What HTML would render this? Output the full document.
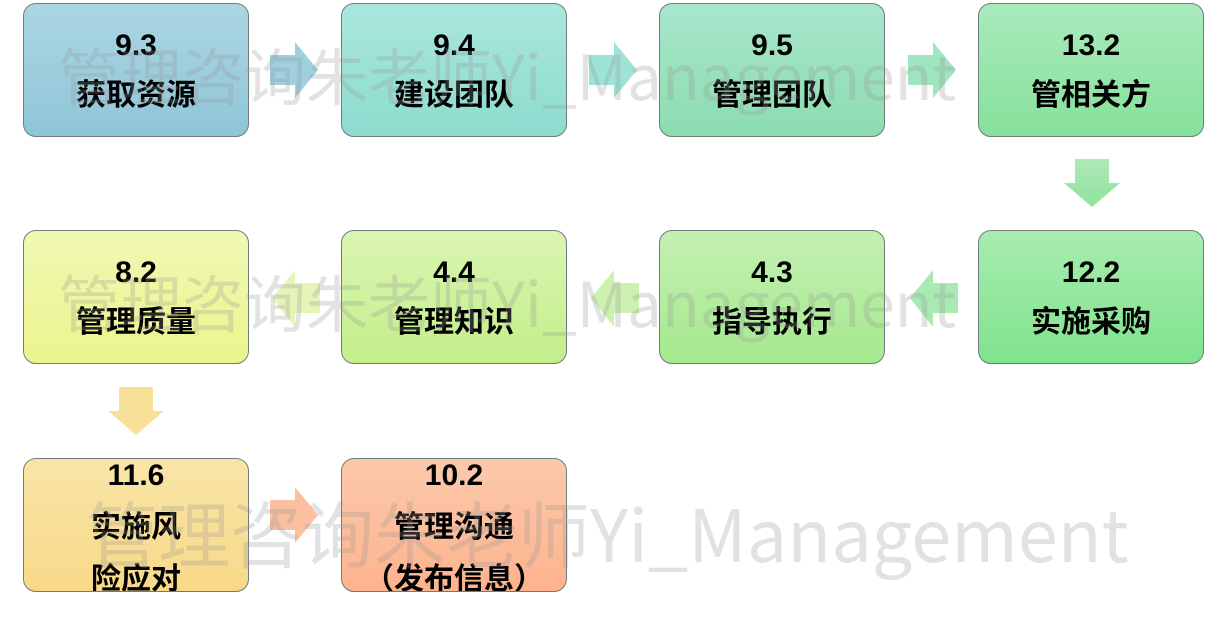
<!DOCTYPE html>
<html><head><meta charset="utf-8"><style>
body{margin:0;width:1228px;height:628px;background:#fff;position:relative;overflow:hidden;font-family:"Liberation Sans","Noto Sans CJK SC",sans-serif}
.b{position:absolute;width:226px;height:134px;border:1px solid #6e7c7c;border-radius:13px;box-sizing:border-box;text-align:center;font-weight:bold;font-size:30px;color:#000;line-height:50px;padding-top:17px;overflow:hidden}
.t3{padding-top:0;line-height:52px}
.t3 div{margin-top:-9px}
.wm{position:absolute;white-space:nowrap;color:rgba(150,150,150,0.28);font-family:"Noto Sans CJK SC","Liberation Sans",sans-serif;font-weight:400}
svg{position:absolute;left:0;top:0}
</style></head><body>
<svg width="1228" height="628">
<defs>
<linearGradient id="g" x1="0" y1="0" x2="0" y2="1"><stop offset="0" stop-color="#aee9b8"/><stop offset="1" stop-color="#8fe29b"/></linearGradient>
</defs>
<polygon points="270,55 295,55 295,42 318,70 295,98 295,85 270,85" fill="#9fd0df"/>
<polygon points="589,55 614,55 614,42 637,70 614,98 614,85 589,85" fill="#9de3d8"/>
<polygon points="908,55 933,55 933,42 956,70 933,98 933,85 908,85" fill="#9ee5c0"/>
<polygon points="1075,159 1109,159 1109,183 1120,183 1092,207 1064,183 1075,183" fill="url(#g)"/>
<polygon points="958,283 933,283 933,270 910,298 933,327 933,313 958,313" fill="#a9eab3"/>
<polygon points="639,283 614,283 614,270 591,298 614,327 614,313 639,313" fill="#cdf2b0"/>
<polygon points="320,283 295,283 295,270 272,298 295,327 295,313 320,313" fill="#e5f5b8"/>
<polygon points="119,387 153,387 153,411 164,411 136,435 108,411 119,411" fill="#f8e098"/>
<polygon points="270,500 295,500 295,487 318,515 295,543 295,530 270,530" fill="#fcbf9f"/>
</svg>
<div class="b" style="left:23px;top:3px;background:linear-gradient(#abd6e2,#8fc5d8)">9.3<br>获取资源</div>
<div class="b" style="left:341px;top:3px;background:linear-gradient(#abe6dd,#8cdcce)">9.4<br>建设团队</div>
<div class="b" style="left:659px;top:3px;background:linear-gradient(#a8e6cc,#8cdcb0)">9.5<br>管理团队</div>
<div class="b" style="left:978px;top:3px;background:linear-gradient(#a9eabd,#86e19a)">13.2<br>管相关方</div>
<div class="b" style="left:978px;top:230px;background:linear-gradient(#a8ecb0,#80e38e)">12.2<br>实施采购</div>
<div class="b" style="left:659px;top:230px;background:linear-gradient(#c4f0b2,#a5e98e)">4.3<br>指导执行</div>
<div class="b" style="left:341px;top:230px;background:linear-gradient(#daf5b2,#c3ef8a)">4.4<br>管理知识</div>
<div class="b" style="left:23px;top:230px;background:linear-gradient(#f0f8b4,#ebf58c)">8.2<br>管理质量</div>
<div class="b t3" style="left:23px;top:458px;background:linear-gradient(#f9e5a8,#f8d988)"><div>11.6<br>实施风<br>险应对</div></div>
<div class="b t3" style="left:341px;top:458px;background:linear-gradient(#fcc9ab,#fdb38d)"><div>10.2<br>管理沟通<br>（发布信息）</div></div>
<div class="wm" style="left:58px;top:28px;font-size:62px">管理咨询朱老师Yi_Management</div>
<div class="wm" style="left:58px;top:255px;font-size:62px">管理咨询朱老师Yi_Management</div>
<div class="wm" style="left:86px;top:478px;font-size:72px">管理咨询朱老师Yi_Management</div>
</body></html>
